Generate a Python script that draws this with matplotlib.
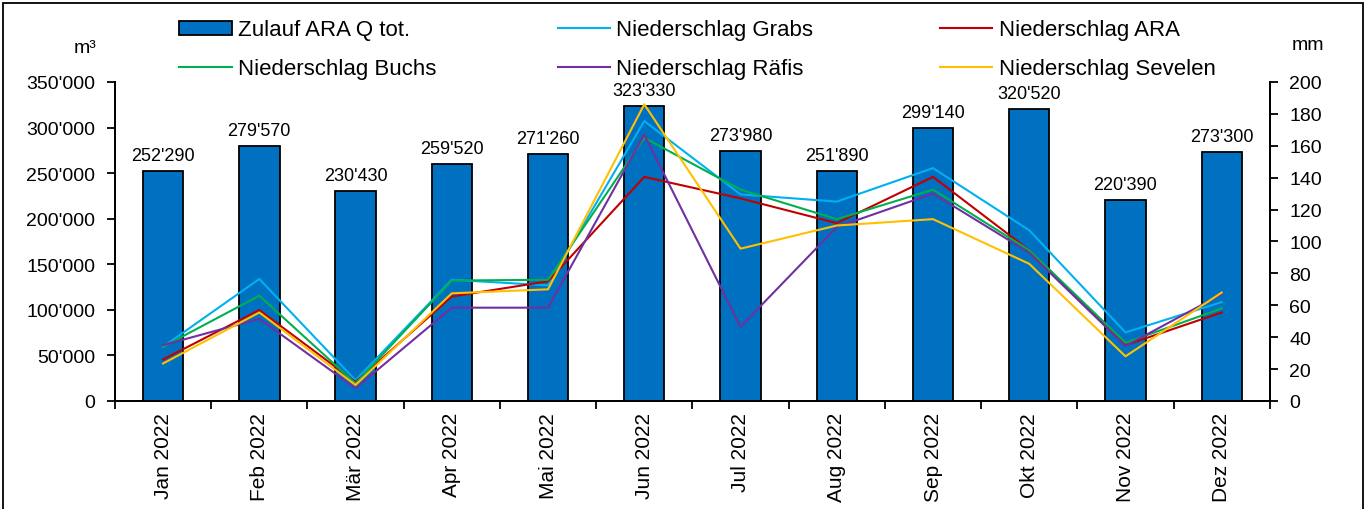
import matplotlib.pyplot as plt
from matplotlib.patches import Rectangle
from matplotlib.ticker import FuncFormatter, MultipleLocator
import numpy as np

plt.rcParams['font.family'] = ['Liberation Sans', 'DejaVu Sans']

months = ["Jan 2022", "Feb 2022", "Mär 2022", "Apr 2022", "Mai 2022", "Jun 2022",
          "Jul 2022", "Aug 2022", "Sep 2022", "Okt 2022", "Nov 2022", "Dez 2022"]
zulauf = [252290, 279570, 230430, 259520, 271260, 323330,
          273980, 251890, 299140, 320520, 220390, 273300]

# Niederschlag in mm
grabs = [34, 76.5, 13, 76, 72.5, 175.5, 129.5, 125, 146, 107, 43, 62]
ara = [26, 57, 12, 65.5, 75, 140.5, 127, 111.5, 140.5, 94.5, 35, 55.5]
buchs = [34, 66, 11, 75.5, 76, 165, 132.5, 114, 132.5, 94.5, 36.5, 58]
raefis = [35, 51.5, 8, 58.5, 58.5, 167, 46.5, 109, 130, 93, 34.5, 67]
sevelen = [23.5, 55.5, 10, 67.5, 70, 186, 95.5, 110, 114, 86, 28, 68]


def swiss(v, pos=None):
    return f"{int(round(v)):,}".replace(",", "'")


fig = plt.figure(figsize=(13.7, 5.1), dpi=100)
ax = fig.add_axes([0.0839, 0.2118, 0.843, 0.6255])
ax2 = ax.twinx()

x = np.arange(len(months))
bars = ax.bar(x, zulauf, width=0.42, color="#0070C0", edgecolor="black",
              linewidth=1.3, label="Zulauf ARA Q tot.", zorder=2)
ax.bar_label(bars, labels=[swiss(v) for v in zulauf], padding=5, fontsize=13)

ax.set_xlim(-0.5, len(months) - 0.5)
ax.set_ylim(0, 350000)
ax.yaxis.set_major_locator(MultipleLocator(50000))
ax.yaxis.set_major_formatter(FuncFormatter(swiss))

ax.set_xticks(x)
ax.set_xticklabels(months, rotation=90, fontsize=15)
ax.set_xticks(np.arange(-0.5, len(months)), minor=True)
ax.tick_params(axis="x", which="major", length=0, pad=8)
ax.tick_params(axis="x", which="minor", length=6, width=1.3, direction="out")
ax.tick_params(axis="y", labelsize=14, length=6, width=1.3, direction="out", pad=8)

series = [
    (grabs, "#00B0F0", "Niederschlag Grabs"),
    (ara, "#C00000", "Niederschlag ARA"),
    (buchs, "#00B050", "Niederschlag Buchs"),
    (raefis, "#7030A0", "Niederschlag Räfis"),
    (sevelen, "#FFC000", "Niederschlag Sevelen"),
]
handles = {}
for vals, col, name in series:
    (ln,) = ax2.plot(x, vals, color=col, linewidth=1.5, label=name)
    handles[name] = ln

ax2.set_ylim(0, 200)
ax2.yaxis.set_major_locator(MultipleLocator(20))
ax2.tick_params(axis="y", labelsize=14, length=6, width=1.3, direction="out", pad=8)

for a in (ax, ax2):
    a.spines["top"].set_visible(False)
    for s in ("left", "right", "bottom"):
        a.spines[s].set_linewidth(1.3)

fig.text(0.062, 0.905, "m³", fontsize=14, ha="center", va="center")
fig.text(0.955, 0.91, "mm", fontsize=14, ha="center", va="center")

# legend: three columns placed separately
cols = [
    (0.131, [bars, handles["Niederschlag Buchs"]], ["Zulauf ARA Q tot.", "Niederschlag Buchs"]),
    (0.407, [handles["Niederschlag Grabs"], handles["Niederschlag Räfis"]],
     ["Niederschlag Grabs", "Niederschlag Räfis"]),
    (0.686, [handles["Niederschlag ARA"], handles["Niederschlag Sevelen"]],
     ["Niederschlag ARA", "Niederschlag Sevelen"]),
]
for xpos, hs, labs in cols:
    fig.legend(hs, labs, loc="upper left", bbox_to_anchor=(xpos, 0.96),
               frameon=False, fontsize=16, handlelength=2.35, handletextpad=0.3,
               labelspacing=0.8, borderpad=0, borderaxespad=0, handleheight=0.6)

fig.patches.append(Rectangle((0.002, -0.05), 0.993, 1.042, transform=fig.transFigure,
                             fill=False, edgecolor="black", linewidth=1.3))

fig.savefig("out.png", dpi=100)
